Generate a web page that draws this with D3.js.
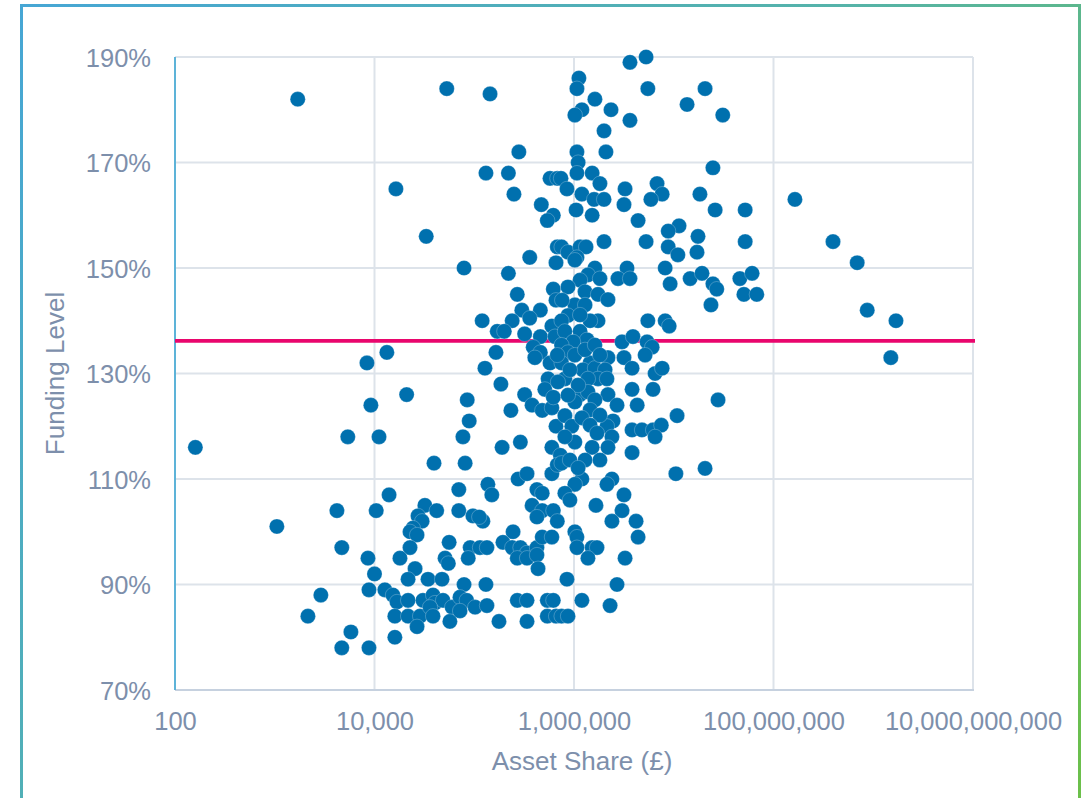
<!DOCTYPE html>
<html>
<head>
<meta charset="utf-8">
<script src="https://cdn.jsdelivr.net/npm/d3@7/dist/d3.min.js"></script>
<style>
  html, body { margin: 0; padding: 0; background: #ffffff; }
  svg { display: block; }
  text { font-family: "Liberation Sans", Arial, sans-serif; }
</style>
</head>
<body>
<svg id="chart" width="1089" height="798"></svg>
<script>
// ---- Data ----
const assetShare = [
  1.7e3,160,1.05e3,2.15e3,2.9e3,4.2e3,4.7e3,4.7e3,5.8e3,5.4e3,
  8.4e3,8.8e3,9.2e3,8.6e3,8.8e3,1.0e4,1.04e4,1.11e4,1.33e4,1.4e4,
  1.64e4,2.1e4,3.3e4,5.3e4,1.44e5,7.9e4,1.31e5,2.8e5,2.5e5,2.2e5,
  5.75e5,6.8e5,4.7e5,6.2e5,5.4e5,3.6e5,6.8e5,2.2e5,6.6e5,2.7e5,
  6.2e5,3.0e5,4.6e5,2.4e5,3.6e5,1.2e5,1.7e5,2.0e5,3.2e5,4.6e5,
  6.0e5,6.45e5,3.9e5,4.6e5,4.05e5,5.75e5,1.65e5,1.28e5,1.85e5,5.5e5,
  5.1e5,3.2e5,3.8e5,4.8e5,6.0e5,6.2e5,8.5e4,2.33e5,8.9e4,7.7e4,
  6.6e5,2.9e5,1.9e5,6.0e5,3.95e4,8.1e4,3.64e6,5.28e6,1.12e6,1.07e6,
  1.62e6,1.2e6,1.02e6,2.35e6,3.64e6,2.0e6,5.5e6,1.36e7,2.06e7,3.1e7,
  1.07e6,2.09e6,2.47e7,7.4e5,8.5e5,1.1e6,1.07e6,1.2e6,1.52e6,1.82e6,
  1.59e6,2.0e6,1.05e6,1.52e6,3.25e6,3.17e6,6.8e6,7.65e6,5.9e6,4.39e6,
  1.83e7,2.6e7,5.2e7,1.13e7,8.8e6,1.75e7,2.0e6,5.28e6,8.8e6,1.1e7,
  1.71e7,5.2e7,7.5e5,8.7e5,1.15e6,1.32e6,1.07e6,1.64e8,3.95e8,6.9e8,
  8.7e8,1.69e9,1.5e9,1.02e6,1.62e6,1.38e6,1.82e6,1.15e6,8.7e5,1.29e6,
  1.74e6,2.19e6,1.02e6,8.7e5,7.5e5,3.4e6,2.76e6,3.64e6,8.2e6,9.2e6,
  1.46e7,1.92e7,2.47e7,2.7e7,2.36e7,4.6e7,6.1e7,5.05e7,6.8e7,1.74e6,
  5.5e6,8.2e6,9.0e6,8.1e5,1.15e6,1.35e6,9.8e5,7.5e5,8.7e5,3.03e6,
  3.9e6,5.4e6,6.07e6,5.16e6,2.19e6,1.45e6,1.23e6,1.62e6,2.05e6,1.74e6,
  1.38e6,2.14e6,3.17e6,3.82e6,6.5e6,7.65e6,7.5e5,8.1e5,6.9e5,3.82e6,
  6.2e6,2.19e6,1.15e6,1.38e6,1.62e6,1.02e6,2.7e6,4.3e6,2.78e7,1.08e7,
  2.46e6,2.14e6,3.82e6,4.8e6,6.2e6,7.5e6,6.5e6,8.1e5,9.5e5,2.4e6,
  2.19e6,1.52e6,3.82e6,1.02e6,8.1e5,7.3e5,3.2e4,4.2e4,2.73e4,
  3.0e4,2.43e4,2.27e4,2.67e4,2.27e4,1.8e4,2.55e4,2.17e4,7.0e4,7.0e4,
  1.37e5,1.5e5,9.7e4,1.22e5,1.12e5,2.75e5,3.38e5,6.0e5,6.8e5,4.25e5,
  4.8e5,3.8e5,4.8e5,4.25e5,6.2e5,6.8e5,5.6e4,5.1e4,5.5e4,9.1e4,
  8.7e4,1.14e5,1.34e5,1.94e5,2.45e5,2.4e5,2.9e5,3.38e5,2.7e5,3.38e5,
  4.25e5,4.8e5,6.0e5,4.25e5,4.36e5,3.44e4,4.75e4,7.9e4,1.31e5,1.27e4,
  1.53e4,1.68e4,2.17e4,3.06e4,3.86e4,4.04e4,4.86e4,6.0e4,7.2e4,8.4e4,
  1.02e5,1.34e5,1.6e4,2.17e4,2.86e4,2.67e4,3.6e4,3.86e4,5.7e4,7.2e4,
  1.6e4,1.77e5,2.7e5,3.38e5,3.38e5,5.4e5,6.2e5,5.4e5,6.6e5,7.5e5,
  9.1e5,1.05e7,2.06e7,1.2e6,1.02e6,2.4e6,2.14e6,8.1e5,9.1e5,3.17e6,
  1.66e6,3.03e6,2.4e6,4.19e6,4.39e6,1.02e6,1.07e6,1.07e6,1.52e6,1.7e6,
  1.38e6,3.25e6,8.5e5,2.7e6,1.2e6,2.3e6,7.5e5,8.7e5,
  6.6e5,7.6e5,1.29e6,1.45e6,1.15e6,6.8e5,1.02e6,1.29e6,1.62e6,1.82e6,
  9.1e5,1.1e6,8.7e5,1.45e6,1.82e6,1.2e6,1.45e6,1.7e6,1.29e6,1.1e6,
  1.82e6
];
const fundingLevel = [
  182,116,101,84,88,104,97,78,81,118,
  132,78,124,95,89,92,104,118,134,107,
  165,126,156,184,183,150,168,172,164,168,
  167,167,162,160,159,152,154,149,151,145,
  146,142,142,140,140.5,140,138,138,137.5,137,
  139,137,135,134,133,132,134,131,128,129,
  127,126,124,123,123.5,125.5,125,123,121,118,
  120,117,116,116,113,113,189,190,186,184,
  182,180,179,180,178,176,184,181,184,179,
  172,172,169,167,165,170,168,164,168,166,
  163,163,161,160,165,162,166,164,163,159,
  164,161,161,158,157,156,155,155,154,152.5,
  153,155,154,153,154,154,152,163,155,151,
  142,140,133,151.5,150,148.7,148,147.7,146.4,145.5,
  145,144,143,141,140,150,148,148,150,147,
  148,149,147,146,143,148,149,145,145,140,
  140,140,139,138,138,136.4,136,135.4,134,136,
  137,136,135,133.5,133,132,130.7,131,130.7,129,
  129,129,133,131,130,131,132,129,128.4,127,
  127,126,126,126.5,125,124.6,124,124,125,122,
  121,120,119.3,119.3,119.3,120.2,118,122,120,118,
  116,116,115,117,118,114.5,105,104,103,
  102,100.7,100,99.4,97,95,93,91,108,104,
  109,107,103,102,102.8,110,111,111,112.7,108,
  107.3,105,104,102.8,104,102,98,95,94,97,
  95,97,97,98,100,97,97,96,95,95,
  97,99,99,95.6,93,91,91,90,90,89,
  88,86.7,87,87,88,86.5,87,85.7,87.6,87,
  85.7,86,84,84,84,82,85.7,84,83,85,
  80,83,87,87,83,87,87,84,84,113,
  113.6,111,112,110,109,110,109,107.3,106,107,
  105,104,102,102,99,100,99,97,97,97,
  95,95,91,90,87,86,84,84,
  143.9,143.9,143,140,141.1,133.5,133.5,134.5,135.4,133.5,
  130.7,127.8,125.9,123.1,122.1,121.6,120.2,118.7,113.6,112.1,
  113.6
];
const referenceLevel = 136.2;               // horizontal magenta line (%)
const xTickValues = [1e2, 1e4, 1e6, 1e8, 1e10];
const xTickLabels = ["100", "10,000", "1,000,000", "100,000,000", "10,000,000,000"];
const yTickValues = [70, 90, 110, 130, 150, 170, 190];
const yTickLabels = ["70%", "90%", "110%", "130%", "150%", "170%", "190%"];
const xTitle = "Asset Share (£)";
const yTitle = "Funding Level";

// ---- Layout ----
const svg = d3.select("#chart");
const plot = { left: 175, right: 973, top: 57, bottom: 690 };
const x = d3.scaleLog().domain([1e2, 1e10]).range([plot.left, plot.right]);
const y = d3.scaleLinear().domain([70, 190]).range([plot.bottom, plot.top]);

// Frame with diagonal gradient
const defs = svg.append("defs");
const grad = defs.append("linearGradient")
  .attr("id", "frameGrad").attr("gradientUnits", "userSpaceOnUse")
  .attr("x1", 0).attr("y1", 0).attr("x2", 1089).attr("y2", 798);
grad.append("stop").attr("offset", "0%").attr("stop-color", "#46a6d6");
grad.append("stop").attr("offset", "50%").attr("stop-color", "#55b3aa");
grad.append("stop").attr("offset", "100%").attr("stop-color", "#6cc049");
svg.append("rect")
  .attr("x", 21.5).attr("y", 5.5).attr("width", 1058).attr("height", 900)
  .attr("fill", "none").attr("stroke", "url(#frameGrad)").attr("stroke-width", 3);

const gridColor = "#dde3ea";
svg.append("g").selectAll("line").data(yTickValues.filter(v => v !== 70)).join("line")
  .attr("x1", plot.left).attr("x2", plot.right)
  .attr("y1", d => y(d)).attr("y2", d => y(d))
  .attr("stroke", gridColor).attr("stroke-width", 2);
svg.append("g").selectAll("line").data(xTickValues.filter(v => v !== 1e2)).join("line")
  .attr("x1", d => x(d)).attr("x2", d => x(d))
  .attr("y1", plot.top).attr("y2", plot.bottom)
  .attr("stroke", gridColor).attr("stroke-width", 2);

// Axis lines
svg.append("line")
  .attr("x1", plot.left).attr("x2", plot.right + 1)
  .attr("y1", plot.bottom).attr("y2", plot.bottom)
  .attr("stroke", "#c6d1df").attr("stroke-width", 2);
svg.append("line")
  .attr("x1", plot.left).attr("x2", plot.left)
  .attr("y1", plot.top).attr("y2", plot.bottom)
  .attr("stroke", "#5db3d8").attr("stroke-width", 2);

// Tick labels
const labelColor = "#7d8fab";
const xAxis = d3.axisBottom(x).tickValues(xTickValues)
  .tickFormat((d, i) => xTickLabels[i]).tickSize(0).tickPadding(0);
const gx = svg.append("g").attr("transform", `translate(0, ${plot.bottom})`).call(xAxis);
gx.select(".domain").remove();
gx.selectAll("text").attr("y", 40).attr("dy", 0)
  .attr("fill", labelColor).attr("font-size", 25.5)
  .attr("font-family", "'Liberation Sans', Arial, sans-serif");

const yAxis = d3.axisLeft(y).tickValues(yTickValues)
  .tickFormat((d, i) => yTickLabels[i]).tickSize(0).tickPadding(24);
const gy = svg.append("g").attr("transform", `translate(${plot.left}, 0)`).call(yAxis);
gy.select(".domain").remove();
gy.selectAll("text").attr("dy", "0.36em")
  .attr("fill", labelColor).attr("font-size", 25.5)
  .attr("font-family", "'Liberation Sans', Arial, sans-serif");

// Axis titles
svg.append("text")
  .attr("x", (plot.left + plot.right) / 2 + 8).attr("y", 770)
  .attr("text-anchor", "middle").attr("fill", labelColor).attr("font-size", 26)
  .text(xTitle);
svg.append("text")
  .attr("transform", `translate(64, ${(plot.top + plot.bottom) / 2}) rotate(-90)`)
  .attr("text-anchor", "middle").attr("fill", labelColor).attr("font-size", 26)
  .text(yTitle);

// Reference line
svg.append("line")
  .attr("x1", plot.left).attr("x2", plot.right + 2)
  .attr("y1", y(referenceLevel)).attr("y2", y(referenceLevel))
  .attr("stroke", "#e9066d").attr("stroke-width", 3.8);

// Points
const points = d3.range(Math.min(assetShare.length, fundingLevel.length))
  .map(i => ({ a: assetShare[i], f: fundingLevel[i] }));
svg.append("g").selectAll("circle").data(points).join("circle")
  .attr("cx", d => x(d.a)).attr("cy", d => y(d.f)).attr("r", 7.6)
  .attr("fill", "#0070ae")
  .attr("stroke", "#ffffff").attr("stroke-opacity", 0.35).attr("stroke-width", 0.7);
</script>
</body>
</html>
